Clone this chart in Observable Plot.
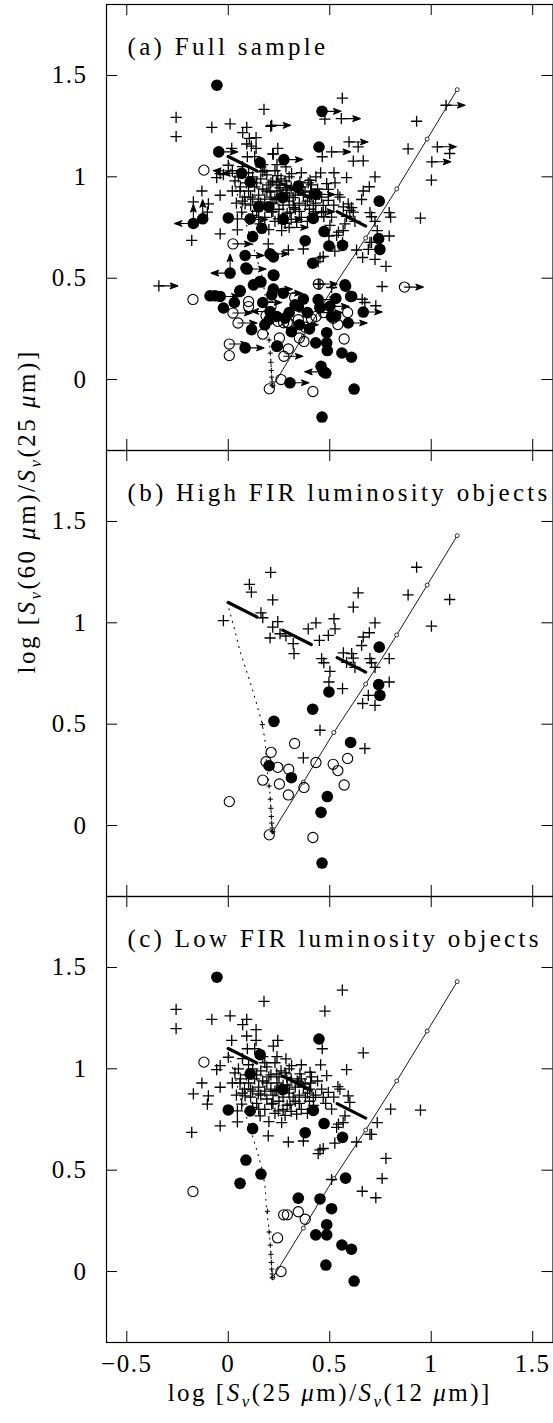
<!DOCTYPE html>
<html><head><meta charset="utf-8">
<script src="https://cdn.jsdelivr.net/npm/d3@7"></script>
<script src="https://cdn.jsdelivr.net/npm/@observablehq/plot@0.6"></script>
<style>
body{margin:0;background:#fff;}
svg{display:block;}
svg text{letter-spacing:1.5px;}
</style>
</head><body><div id="chart"></div>
<script>
// ---------- values ----------
const panels = ["a", "b", "c"];
const panelTitles = ["(a) Full sample", "(b) High FIR luminosity objects", "(c) Low FIR luminosity objects"];
const xTicks = [-0.5, 0, 0.5, 1, 1.5];
const yTicks = [0, 0.5, 1, 1.5];

// model track with small open circles
const modelX = [0.22, 0.37, 0.52, 0.677, 0.83, 0.98, 1.128];
const modelY = [-0.03, 0.214, 0.459, 0.698, 0.94, 1.186, 1.43];
// dotted model curve
const dotX = [-0.005, 0.025, 0.058, 0.107, 0.14, 0.168, 0.181, 0.192, 0.202, 0.21, 0.217];
const dotY = [1.1, 0.99, 0.86, 0.71, 0.6, 0.5, 0.42, 0.27, 0.2, 0.09, -0.03];
const dotPlus = [[0.201,0.195],[0.207,0.13],[0.21,0.085],[0.212,0.045],[0.214,0.012],[0.216,-0.012],[0.217,-0.03]];
// thick dashed line
const dashX = [0.0, 0.681];
const dashY = [1.1, 0.755];

// (b) high FIR luminosity
const highPlus = [[-0.024,1.011],[0.209,1.249],[0.104,1.19],[0.114,1.151],[0.219,1.113],[0.161,1.049],[0.17,1.025],[0.244,1.006],[0.219,0.979],[0.206,0.925],[0.255,0.946],[0.284,0.935],[0.32,0.897],[0.324,0.848],[0.394,0.97],[0.432,1.0],[0.521,1.02],[0.526,0.97],[0.493,0.938],[0.449,0.913],[0.46,0.823],[0.471,0.803],[0.501,0.76],[0.496,0.708],[0.563,0.675],[0.64,1.148],[0.616,1.077],[0.723,1.0],[0.695,0.951],[0.665,0.93],[0.657,0.888],[0.567,0.852],[0.608,0.848],[0.616,0.826],[0.583,0.805],[0.624,0.78],[0.698,0.823],[0.706,0.803],[0.723,0.78],[0.793,0.823],[0.793,0.708],[0.69,0.642],[0.662,0.602],[0.723,0.593],[0.673,0.38],[0.452,0.47],[0.37,0.334],[0.928,1.274],[0.886,1.138],[1.091,1.115],[1.001,0.984]];
const highSmallPlus = [[0.168,0.498]];
const highFilled = [[0.744,0.88],[0.741,0.695],[0.747,0.642],[0.496,0.659],[0.416,0.574],[0.225,0.514],[0.603,0.41],[0.201,0.295],[0.311,0.236],[0.488,0.143],[0.457,0.065],[0.462,-0.185]];
const highOpen = [[0.005,0.118],[0.327,0.405],[0.211,0.361],[0.186,0.315],[0.244,0.287],[0.298,0.278],[0.17,0.224],[0.252,0.205],[0.296,0.151],[0.373,0.188],[0.432,0.311],[0.517,0.302],[0.54,0.271],[0.588,0.331],[0.571,0.2],[0.202,-0.046],[0.417,-0.059]];

// (c) low FIR luminosity
const lowPlus = [[-0.257,1.293],[-0.257,1.198],[-0.081,1.244],[0.009,1.261],[0.176,1.333],[0.091,1.244],[0.071,1.218],[0.137,1.193],[0.091,1.162],[0.137,1.14],[0.017,1.14],[0.222,1.112],[0.244,1.14],[0.094,1.099],[0.0,1.057],[-0.04,1.016],[-0.057,0.996],[-0.13,0.93],[-0.172,0.876],[-0.098,0.867],[-0.103,0.826],[-0.04,0.909],[0.033,0.98],[0.058,0.93],[0.284,1.049],[0.312,1.016],[0.239,0.975],[0.288,0.958],[0.353,0.975],[0.406,0.93],[0.345,0.934],[0.239,0.892],[0.19,0.851],[0.148,0.876],[0.083,0.867],[0.066,0.826],[0.045,0.793],[0.214,0.826],[0.304,0.826],[0.337,0.777],[0.247,0.793],[0.157,0.768],[0.045,0.738],[0.263,0.735],[-0.04,0.719],[-0.18,0.686],[0.197,0.669],
[0.562,1.388],[0.476,1.285],[0.665,1.079],[0.463,1.099],[0.455,1.019],[0.583,0.996],[0.403,0.983],[0.485,0.966],[0.378,0.925],[0.493,0.884],[0.55,0.9],[0.591,0.867],[0.599,0.834],[0.468,0.859],[0.419,0.859],[0.509,0.801],[0.566,0.735],[0.534,0.711],[0.575,0.768],[0.734,0.735],[0.698,0.677],[0.8,0.801],[0.947,0.796],
[0.296,0.639],[0.37,0.644],[0.443,0.582],[0.468,0.607],[0.525,0.633],[0.632,0.639],[0.706,0.677],[0.777,0.558],[0.758,0.459],[0.509,0.454],[0.66,0.396],[0.727,0.364],[0.54,0.912],[0.543,0.727],[0.452,0.6],
[0.06,0.95],[0.08,0.9],[0.1,0.93],[0.12,0.89],[0.13,0.95],[0.15,0.91],[0.17,0.94],[0.18,0.89],[0.2,0.96],[0.21,0.9],[0.22,0.87],[0.24,0.93],[0.26,0.9],[0.27,0.86],[0.29,0.92],[0.3,0.88],[0.31,0.95],[0.33,0.91],[0.35,0.87],[0.36,0.95],[0.38,0.86],[0.4,0.9],[0.11,0.86],[0.14,0.83],[0.16,0.99],[0.19,1.01],[0.23,1.03],[0.26,0.99],[0.1,1.02],[0.07,1.05],[0.29,0.82],[0.33,0.84],[0.25,0.84],[0.12,0.81],[0.18,0.8],[0.23,0.78],[0.28,0.77],[0.36,0.8],[0.42,0.82],[0.44,0.94],[0.39,0.78],[0.2,0.74],[0.13,1.1],[0.17,1.06],[0.05,1.0],
[0.07,0.88],[0.09,0.97],[0.11,0.9],[0.14,0.97],[0.16,0.87],[0.19,0.93],[0.21,0.97],[0.23,0.89],[0.25,0.96],[0.27,0.92],[0.28,0.98],[0.3,0.9],[0.32,0.86],[0.34,0.94],[0.37,0.91],[0.39,0.88],[0.41,0.96],[0.43,0.87],[0.15,0.8],[0.22,0.83],[0.27,0.8],[0.31,0.79],[0.35,0.83],[0.4,0.84],[0.46,0.9],[0.48,0.83],[0.52,0.86],[0.12,1.0],[0.18,1.03],[0.24,1.06],[0.3,1.0],[0.36,1.02],[0.04,0.87],[0.02,0.93]];
const lowSmallPlus = [[0.193,0.297]];
const lowFilled = [[-0.056,1.452],[0.447,1.147],[0.157,1.07],[0.108,0.975],[0.268,0.897],[0.0,0.797],[0.108,0.792],[0.419,0.795],[0.12,0.705],[0.472,0.73],[0.379,0.685],[0.563,0.662],[0.087,0.55],[0.161,0.481],[0.058,0.435],[0.578,0.461],[0.345,0.362],[0.452,0.358],[0.509,0.31],[0.485,0.231],[0.431,0.181],[0.485,0.181],[0.56,0.131],[0.607,0.11],[0.481,0.032],[0.62,-0.047]];
const lowOpen = [[-0.12,1.033],[-0.174,0.395],[0.273,0.28],[0.291,0.28],[0.345,0.295],[0.379,0.258],[0.243,0.166],[0.26,0.0]];

// (a) only: objects with limits  [x, y, arrows]
const limitFilled = [[0.462,1.323,"r"],[-0.047,1.123,"r"],[0.274,1.085,"r"],[0.066,1.017,"l"],[0.345,0.954,""],[0.432,0.913,"r"],[0.15,0.852,""],[0.2,0.852,""],[0.271,0.79,"r"],[-0.172,0.77,"lu"],[-0.126,0.793,"u"],[0.165,0.746,""],[0.083,0.612,"r"],[0.206,0.62,"r"],[0.222,0.605,""],[0.093,0.545,"r"],[0.009,0.525,"lu"],[0.222,0.516,""],[-0.09,0.413,""],[-0.065,0.413,""],[-0.04,0.41,"r"],[0.058,0.439,""],[0.124,0.467,""],[0.156,0.484,""],[0.222,0.446,"r"],[0.271,0.426,"r"],[0.214,0.418,""],[0.37,0.397,""],[0.329,0.369,""],[0.443,0.394,"r"],[0.452,0.353,""],[0.501,0.361,"r"],[0.529,0.311,""],[0.575,0.467,""],[0.608,0.41,""],[-0.024,0.353,""],[0.206,0.336,"l"],[0.239,0.311,""],[0.28,0.303,""],[0.115,0.246,""],[0.083,0.156,"r"],[0.239,0.164,""],[0.304,-0.016,"r"],[0.47,0.038,"l"],[0.665,0.333,"r"],[0.591,0.279,"r"],[0.03,0.38,""],[0.17,0.38,"r"],[0.3,0.33,""],[0.39,0.33,""],[0.4,0.25,""],[0.35,0.27,"r"],[0.18,0.27,""],[0.53,0.4,""]];
const limitOpen = [[0.023,0.669,"r"],[0.868,0.456,"r"],[0.444,0.471,"r"],[0.1,0.385,""],[0.1,0.36,""],[0.023,0.328,"r"],[0.048,0.279,"r"],[0.005,0.175,"r"],[0.274,0.115,"r"],[0.35,0.205,""],[0.41,0.3,""],[0.47,0.33,"r"]];
const limitPlus = [[0.214,1.254,"r"],[0.557,1.287,"r"],[1.073,1.353,"r"],[0.595,1.172,"r"],[0.509,1.123,"r"],[1.03,1.148,"r"],[1.003,1.074,"r"],[-0.342,0.462,"r"],[0.444,0.471,""],[0.431,0.828,"r"],[0.1,0.79,"r"],[0.3,0.75,"r"],[0.02,1.03,"l"]];

const yLabelText = "log [Sν(60 μm)/Sν(25 μm)]";
const xLabelText = "log [Sν(25 μm)/Sν(12 μm)]";

// ---------- build tables ----------
const dots = [];
function add(list, kind, targets) {
  for (const p of list) for (const panel of targets) dots.push({panel, x: p[0], y: p[1], kind});
}
add(highPlus, "plus", ["a","b"]);
add(highSmallPlus, "small", ["a","b"]);
add(highFilled, "filled", ["a","b"]);
add(highOpen, "open", ["a","b"]);
add(lowPlus, "plus", ["a","c"]);
add(lowSmallPlus, "small", ["a","c"]);
add(lowFilled, "filled", ["a","c"]);
add(lowOpen, "open", ["a","c"]);
add(limitFilled, "filled", ["a"]);
add(limitOpen, "open", ["a"]);
add(limitPlus, "plus", ["a"]);

const arrows = [];
for (const list of [limitFilled, limitOpen, limitPlus])
  for (const [x, y, dirs] of list)
    for (const c of dirs) arrows.push({panel: "a", x, y, angle: c === "r" ? 90 : c === "l" ? -90 : 0});

const model = modelX.map((x, i) => ({x, y: modelY[i]}));
const dotted = dotX.map((x, i) => ({x, y: dotY[i]}));
const dashed = dashX.map((x, i) => ({x, y: dashY[i]}));
const modelPlus = dotPlus.map(([x, y]) => ({x, y}));

const plusSymbol = {draw(ctx, size) { const h = Math.sqrt(size / Math.PI); ctx.moveTo(-h, 0); ctx.lineTo(h, 0); ctx.moveTo(0, -h); ctx.lineTo(0, h); }};
const arrowShape = {draw(ctx, l) {
  ctx.moveTo(0, 0); ctx.lineTo(0, -l + 3);
  ctx.moveTo(0, -l); ctx.lineTo(-2.8, -l + 7.5); ctx.lineTo(0, -l + 5.5); ctx.lineTo(2.8, -l + 7.5); ctx.closePath();
}};
const fmt = d => String(d).replace("-", "\u2212");

// ---------- layout ----------
const W = 553, H = 1423, ML = 106, MR = 0.5, MT = 4, MB = 81;
const facetH = (H - MT - MB) / 3;
const plotW = W - ML - MR;
const TL = 11;
const FONT = "Liberation Serif";
const FS = 25;

const chart = Plot.plot({
  width: W, height: H,
  marginLeft: ML, marginRight: MR, marginTop: MT, marginBottom: MB,
  x: {domain: [-0.6, 1.6]},
  y: {domain: [-0.35, 1.85]},
  fy: {domain: panels, padding: 0, axis: null, label: null},
  style: {fontFamily: FONT, fontSize: FS + "px", background: "white", color: "black"},
  marks: [
    Plot.frame({stroke: "black", strokeWidth: 1.2}),
    Plot.tickX(xTicks, {x: d => d, insetBottom: facetH - TL, stroke: "black"}),
    Plot.tickX(xTicks, {x: d => d, insetTop: facetH - TL, stroke: "black"}),
    Plot.tickY(yTicks, {y: d => d, insetRight: plotW - TL, stroke: "black"}),
    Plot.tickY(yTicks, {y: d => d, insetLeft: plotW - TL, stroke: "black"}),
    Plot.axisY({ticks: yTicks, tickSize: 0, tickPadding: 19, label: null, fontSize: FS, tickFormat: fmt}),
    Plot.axisX({ticks: xTicks, tickSize: 0, tickPadding: 12, label: null, fontSize: FS, tickFormat: fmt}),
    Plot.line(dotted, {x: "x", y: "y", stroke: "black", strokeWidth: 1.1, strokeDasharray: "1,5.5"}),
    Plot.line(dashed, {x: "x", y: "y", stroke: "black", strokeWidth: 3.2, strokeDasharray: "32,29"}),
    Plot.line(model, {x: "x", y: "y", stroke: "black", strokeWidth: 0.9}),
    Plot.dot(model, {x: "x", y: "y", r: 2, stroke: "black", strokeWidth: 0.8, fill: "white"}),
    Plot.dot(modelPlus, {x: "x", y: "y", r: 2.6, symbol: plusSymbol, stroke: "black", fill: "none", strokeWidth: 1}),
    Plot.dot(dots.filter(d => d.kind === "small"), {x: "x", y: "y", fy: "panel", r: 2.6, symbol: plusSymbol, stroke: "black", fill: "none", strokeWidth: 1}),
    Plot.dot(dots.filter(d => d.kind === "plus"), {x: "x", y: "y", fy: "panel", r: 5.6, symbol: plusSymbol, stroke: "black", fill: "none", strokeWidth: 1.3}),
    Plot.dot(dots.filter(d => d.kind === "open"), {x: "x", y: "y", fy: "panel", r: 5.1, stroke: "black", fill: "none", strokeWidth: 1.1}),
    Plot.dot(dots.filter(d => d.kind === "filled"), {x: "x", y: "y", fy: "panel", r: 5.8, fill: "black", stroke: "none"}),
    Plot.vector(arrows, {x: "x", y: "y", fy: "panel", rotate: "angle", length: 19, anchor: "start", shape: arrowShape, stroke: "black", fill: "black", strokeWidth: 1.1}),
    Plot.text(panels, {fy: d => d, text: (d, i) => panelTitles[i], frameAnchor: "top-left", textAnchor: "start", dx: 21, dy: 33, fontSize: FS, fill: "black"}),
    Plot.text(["b"], {fy: d => d, text: () => yLabelText, frameAnchor: "left", rotate: -90, dx: -80, fontSize: FS, fill: "black"}),
    Plot.text(["c"], {fy: d => d, text: () => xLabelText, frameAnchor: "bottom", dy: 58, fontSize: FS, fill: "black"})
  ]
});

// letter spacing of the titles and italic / subscript styling of the two axis titles
const NS = "http://www.w3.org/2000/svg";
for (const t of chart.querySelectorAll("text")) {
  if (panelTitles.includes(t.textContent)) t.style.letterSpacing = "3.3px";
}
const labelParts = (a, b) => [["log [",""],["S","i"],["ν","is"],["(" + a + " ",""],["μ","i"],["m)/",""],["S","i"],["ν","is"],["(" + b + " ",""],["μ","i"],["m)]",""]];
function styleLabel(plain, parts) {
  const t = [...chart.querySelectorAll("text")].find(n => n.textContent === plain);
  if (!t) return;
  t.textContent = "";
  t.style.letterSpacing = "2.5px";
  let shifted = false;
  for (const [s, f] of parts) {
    const ts = document.createElementNS(NS, "tspan");
    ts.textContent = s;
    if (f.includes("i")) ts.setAttribute("font-style", "italic");
    if (f.includes("s")) { ts.setAttribute("font-size", "17"); ts.setAttribute("dy", "6"); shifted = true; }
    else if (shifted) { ts.setAttribute("dy", "-6"); shifted = false; }
    t.appendChild(ts);
  }
}
styleLabel(yLabelText, labelParts("60", "25"));
styleLabel(xLabelText, labelParts("25", "12"));

document.getElementById("chart").appendChild(chart);
</script>
</body></html>
